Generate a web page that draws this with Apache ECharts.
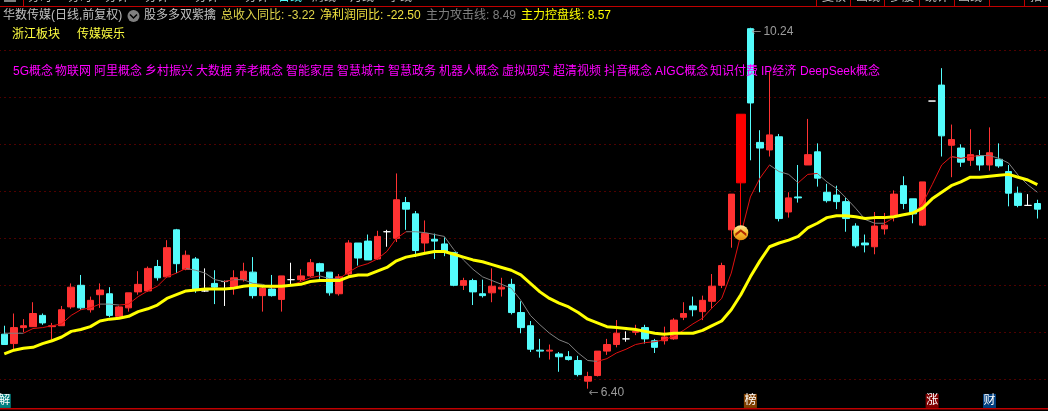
<!DOCTYPE html>
<html>
<head>
<meta charset="utf-8">
<style>html,body{margin:0;padding:0;background:#000;overflow:hidden}#c{width:1048px;height:411px}</style>
<script src="https://cdn.jsdelivr.net/npm/echarts@6/dist/echarts.min.js"></script>
</head>
<body>
<div id="c"></div>
<script>
// [open, close, low, high]
const candles = [
[6.98,6.87,6.87,7.07],[6.88,7.05,6.82,7.20],[7.05,7.07,7.00,7.14],[7.06,7.20,7.06,7.32],[7.18,7.10,7.08,7.20],
[7.06,7.07,6.92,7.10],[7.07,7.24,7.07,7.28],[7.27,7.48,7.25,7.52],[7.50,7.26,7.24,7.61],[7.24,7.34,7.21,7.38],
[7.40,7.45,7.26,7.52],[7.41,7.18,7.16,7.48],[7.17,7.27,7.17,7.28],[7.26,7.42,7.22,7.42],[7.43,7.51,7.40,7.65],
[7.44,7.68,7.43,7.70],[7.70,7.58,7.55,7.77],[7.59,7.90,7.58,7.98],[8.09,7.73,7.63,8.10],[7.67,7.82,7.66,7.87],
[7.78,7.46,7.42,7.80],[7.44,7.44,7.43,7.68],[7.52,7.48,7.30,7.66],[7.54,7.54,7.28,7.55],[7.47,7.58,7.40,7.66],
[7.56,7.65,7.54,7.74],[7.64,7.39,7.36,7.80],[7.39,7.47,7.22,7.50],[7.46,7.39,7.38,7.61],[7.35,7.60,7.22,7.60],
[7.56,7.56,7.51,7.74],[7.56,7.60,7.54,7.67],[7.60,7.74,7.59,7.78],[7.73,7.65,7.57,7.74],[7.64,7.42,7.39,7.64],
[7.41,7.59,7.39,7.62],[7.62,7.95,7.59,7.98],[7.95,7.79,7.71,7.95],[7.97,7.77,7.77,8.04],[7.78,8.02,7.77,8.08],
[8.07,8.07,7.91,8.09],[8.00,8.41,7.96,8.69],[8.38,8.31,8.09,8.44],[8.26,7.87,7.80,8.29],[7.95,8.05,7.85,8.19],
[7.99,7.97,7.78,8.05],[7.94,7.85,7.81,8.01],[7.85,7.50,7.49,7.85],[7.50,7.55,7.45,7.58],[7.55,7.43,7.29,7.57],
[7.41,7.39,7.37,7.56],[7.42,7.49,7.32,7.68],[7.46,7.48,7.38,7.58],[7.51,7.21,7.19,7.57],[7.21,7.05,6.99,7.33],
[7.07,6.82,6.79,7.12],[6.81,6.80,6.73,6.93],[6.80,6.81,6.71,6.87],[6.77,6.74,6.58,6.79],[6.74,6.71,6.70,6.80],
[6.70,6.55,6.53,6.75],[6.48,6.53,6.40,6.58],[6.54,6.80,6.53,6.80],[6.80,6.87,6.76,6.93],[6.87,6.99,6.84,7.13],
[6.93,6.93,6.90,7.01],[7.00,7.01,6.97,7.08],[7.05,6.93,6.88,7.08],[6.91,6.84,6.78,6.93],[6.91,6.95,6.87,7.06],
[6.93,7.13,6.92,7.15],[7.16,7.20,7.13,7.32],[7.28,7.24,7.17,7.38],[7.22,7.34,7.13,7.39],[7.33,7.49,7.25,7.62],
[7.50,7.71,7.47,7.74],[8.09,8.47,7.90,8.47],[8.59,9.32,8.07,9.32],[10.23,9.44,8.83,10.24],[9.02,8.96,8.49,9.15],
[8.94,9.10,8.87,9.78],[9.08,8.21,8.18,9.11],[8.28,8.43,8.22,8.49],[8.44,8.43,8.38,8.78],[8.78,8.89,8.78,9.27],
[8.92,8.64,8.55,9.01],[8.49,8.40,8.38,8.58],[8.46,8.39,8.31,8.56],[8.39,8.21,8.07,8.43],[8.13,7.92,7.90,8.16],
[7.95,7.93,7.85,8.04],[7.91,8.13,7.83,8.28],[8.10,8.14,8.04,8.27],[8.24,8.47,8.18,8.51],[8.56,8.37,8.31,8.66],
[8.42,8.26,8.16,8.42],[8.14,8.60,8.13,8.60],[9.46,9.46,9.46,9.46],[9.63,9.09,8.87,9.81],[8.99,9.05,8.65,9.21],
[8.96,8.81,8.76,9.00],[8.83,8.89,8.77,9.16],[8.88,8.78,8.72,8.94],[8.78,8.91,8.72,9.18],[8.84,8.77,8.75,9.01],
[8.71,8.48,8.34,8.78],[8.48,8.35,8.33,8.55],[8.35,8.35,8.35,8.47],[8.37,8.31,8.21,8.41]
];
const controlLine = [
6.77,6.81,6.83,6.84,6.88,6.91,6.95,7.01,7.03,7.06,7.12,7.14,7.15,7.17,7.22,7.25,7.29,7.36,7.40,7.44,
7.45,7.46,7.46,7.46,7.47,7.49,7.50,7.49,7.49,7.49,7.50,7.51,7.54,7.55,7.55,7.55,7.59,7.61,7.61,7.65,
7.69,7.76,7.80,7.82,7.84,7.86,7.86,7.83,7.80,7.77,7.75,7.72,7.69,7.66,7.61,7.52,7.43,7.36,7.31,7.27,
7.21,7.14,7.10,7.06,7.05,7.04,7.03,7.01,6.99,6.98,6.99,6.99,6.99,7.02,7.07,7.12,7.24,7.40,7.59,7.76,
7.91,7.95,7.98,8.02,8.11,8.16,8.22,8.24,8.24,8.23,8.21,8.22,8.22,8.23,8.25,8.27,8.32,8.42,8.49,8.56,
8.60,8.65,8.65,8.66,8.67,8.68,8.65,8.62,8.57
];
const attackLine = [
6.99,6.99,6.99,7.04,7.05,7.07,7.09,7.18,7.24,7.26,7.30,7.30,7.29,7.30,7.38,7.44,7.49,7.59,7.63,7.68,
7.66,7.63,7.56,7.54,7.56,7.56,7.52,7.51,7.47,7.49,7.50,7.54,7.58,7.60,7.57,7.57,7.64,7.70,7.73,7.78,
7.86,8.00,8.07,8.07,8.06,8.04,8.02,7.88,7.77,7.67,7.59,7.55,7.51,7.47,7.34,7.18,7.08,6.99,6.92,6.88,
6.78,6.70,6.69,6.72,6.78,6.82,6.87,6.89,6.90,6.92,6.96,7.02,7.09,7.15,7.26,7.36,7.63,8.04,8.44,8.64,
8.78,8.71,8.68,8.59,8.68,8.69,8.60,8.53,8.43,8.32,8.20,8.16,8.16,8.22,8.25,8.26,8.37,8.57,8.78,8.87,
8.85,8.87,8.88,8.88,8.85,8.80,8.67,8.57,8.49
];
const limitUpIndex = 77;
const signalPoint = [77, 8.06];
const extremes = [[78, 10.24], [61, 6.40]];
const eventTags = ['解', '榜', '涨', '财'];
const eventIndex = [0, 78, 97, 103];
const eventColor = ['#007f7f', '#804000', '#800000', '#003f7f'];
const eventPrice = 6.27;
const conceptWords = ['5G概念','物联网','阿里概念','乡村振兴','大数据','养老概念','智能家居','智慧城市','智慧政务','机器人概念','虚拟现实','超清视频','抖音概念','AIGC概念','知识付费','IP经济','DeepSeek概念'];
const conceptX = [13,55,94,145,196,235,286,337,388,439,502,553,604,655,710,761,800];
const sectorTags = ['浙江板块', '传媒娱乐'];
const headerItems = [
  ['华数传媒(日线,前复权)', 3, '#c0c0c0'],
  ['股多多双紫擒', 144, '#c0c0c0'],
  ['总收入同比: -3.22', 221, '#e0d44a'],
  ['净利润同比: -22.50', 320, '#f0e040'],
  ['主力攻击线: 8.49', 426, '#808080'],
  ['主力控盘线: 8.57', 521, '#ffff00']
];
const topTabs = [
  ['分时',28,'#c0c0c0'],['分时',68,'#c0c0c0'],['分钟',105,'#c0c0c0'],['分钟',145,'#c0c0c0'],['分钟',195,'#c0c0c0'],
  ['分钟',245,'#c0c0c0'],['日线',278,'#54fcfc'],['周线',312,'#c0c0c0'],['月线',350,'#c0c0c0'],['季线',388,'#c0c0c0'],
  ['复权',822,'#c0c0c0'],['画线',856,'#c0c0c0'],['多股',890,'#c0c0c0'],['统计',925,'#c0c0c0'],['画线',958,'#c0c0c0'],['指',1030,'#c0c0c0']
];
const topSeparators = [23, 816, 850, 884, 919, 954, 989, 1024];

const cjk = '"Liberation Sans","Noto Sans CJK SC",sans-serif';
const categories = candles.map((_, i) => String(i)).concat(['']);
const baseCandles = candles.map((c, i) => i === limitUpIndex ? '-' : c);
const limitCandles = candles.map((c, i) => i === limitUpIndex ? c : '-');
const rising = (i) => i > 0 && attackLine[i] > attackLine[i - 1];
const attackUp = attackLine.map((v, i) => (rising(i) || rising(i + 1)) ? v : null);
const attackDown = attackLine.map((v, i) => ((i > 0 && !rising(i)) || (i + 1 < attackLine.length && !rising(i + 1))) ? v : null);

const graphics = [];
graphics.push({type:'rect', shape:{x:0,y:6,width:1048,height:1}, style:{fill:'#c00000'}, z:100});
graphics.push({type:'rect', shape:{x:0,y:408,width:1048,height:1.5}, style:{fill:'#c00000'}, z:100});
topSeparators.forEach(x => graphics.push({type:'rect', shape:{x:x,y:0,width:1,height:6}, style:{fill:'#c00000'}, z:100}));
topTabs.forEach(t => graphics.push({type:'text', x:t[1], y:-8, z:90, style:{text:t[0], fill:t[2], font:'12px '+cjk, verticalAlign:'top'}}));
graphics.push({type:'rect', shape:{x:4,y:0,width:12,height:2}, style:{fill:'#808080'}, z:90});
headerItems.forEach(h => graphics.push({type:'text', x:h[1], y:16, z:100, style:{text:h[0], fill:h[2], font:'12px '+cjk, verticalAlign:'middle'}}));
graphics.push({type:'circle', shape:{cx:133.5,cy:16,r:6}, style:{fill:'#808080'}, z:100});
graphics.push({type:'polyline', shape:{points:[[130,14.5],[133.5,18],[137,14.5]]}, style:{stroke:'#000',lineWidth:1.5,fill:null}, z:101});
sectorTags.forEach((s, i) => graphics.push({type:'text', x:12 + i*65, y:35, z:100, style:{text:s, fill:'#ffff40', font:'12px '+cjk, verticalAlign:'middle'}}));
conceptWords.forEach((w, i) => graphics.push({type:'text', x:conceptX[i], y:72, z:100, style:{text:w, fill:'#ff00ff', font:'12px '+cjk, verticalAlign:'middle'}}));

const chart = echarts.init(document.getElementById('c'), null, {renderer:'canvas', width:1048, height:411});
chart.setOption({
  animation:false,
  backgroundColor:'#000',
  grid:{left:-0.5, top:3.3, width:1052.2, height:423, containLabel:false, outerBoundsMode:'none'},
  xAxis:{type:'category', data:categories, boundaryGap:true, show:false},
  yAxis:{type:'value', min:6, max:10.5, interval:0.5, scale:true,
    axisLine:{show:false}, axisTick:{show:false}, axisLabel:{show:false},
    splitLine:{show:true, showMinLine:false, showMaxLine:false, lineStyle:{color:'#a00000', width:1, type:[1,4]}}},
  graphic:graphics,
  series:[
    {type:'candlestick', data:baseCandles, barWidth:7, clip:false,
      itemStyle:{color:'#ff3232', color0:'#54fcfc', borderColor:'#ff3232', borderColor0:'#54fcfc', borderColorDoji:'#ffffff', borderWidth:1}},
    {type:'candlestick', data:limitCandles, barWidth:9, clip:false,
      itemStyle:{color:'#ff0000', color0:'#ff0000', borderColor:'#ff0000', borderColor0:'#ff0000', borderWidth:1}},
    {type:'line', data:attackDown, symbol:'none', connectNulls:false, lineStyle:{color:'#808080', width:1}, z:3},
    {type:'line', data:attackUp, symbol:'none', connectNulls:false, lineStyle:{color:'#e01010', width:1}, z:3},
    {type:'line', data:controlLine, symbol:'none', lineStyle:{color:'#ffff00', width:3}, z:4},
    {type:'scatter', data:[signalPoint], symbol:'circle', symbolSize:15, z:6,
      itemStyle:{opacity:1, color:{type:'linear',x:0,y:0,x2:0,y2:1,colorStops:[{offset:0,color:'#ffe9a0'},{offset:0.5,color:'#f8c030'},{offset:1,color:'#e89010'}]}}},
    {type:'scatter', data:[signalPoint], symbol:'path://M0 10 L10 0 L20 10 L20 16 L10 6 L0 16Z', symbolSize:[11,7], z:7,
      itemStyle:{opacity:1, color:'#b02800'}},
    {type:'scatter', data:extremes, symbol:'circle', symbolSize:0, z:8,
      label:{show:true, position:'right', distance:0, offset:[1,4],
        formatter:(p) => '{a|←}{b|' + p.value[1].toFixed(2) + '}',
        rich:{a:{color:'#a0a0a0', fontSize:12, fontFamily:'"DejaVu Sans"'}, b:{color:'#c0c0c0', fontSize:12, fontFamily:'"Liberation Sans"', padding:[0,0,0,2]}}}},
    {type:'scatter', symbol:'rect', symbolSize:[13,14], z:8,
      data:eventTags.map((t, i) => ({value:[eventIndex[i], eventPrice], name:t, itemStyle:{opacity:1, color:eventColor[i]}})),
      label:{show:true, position:'inside', formatter:(p) => p.name, color:'#fff', fontSize:12, fontFamily:cjk}}
  ]
});
</script>
</body>
</html>
